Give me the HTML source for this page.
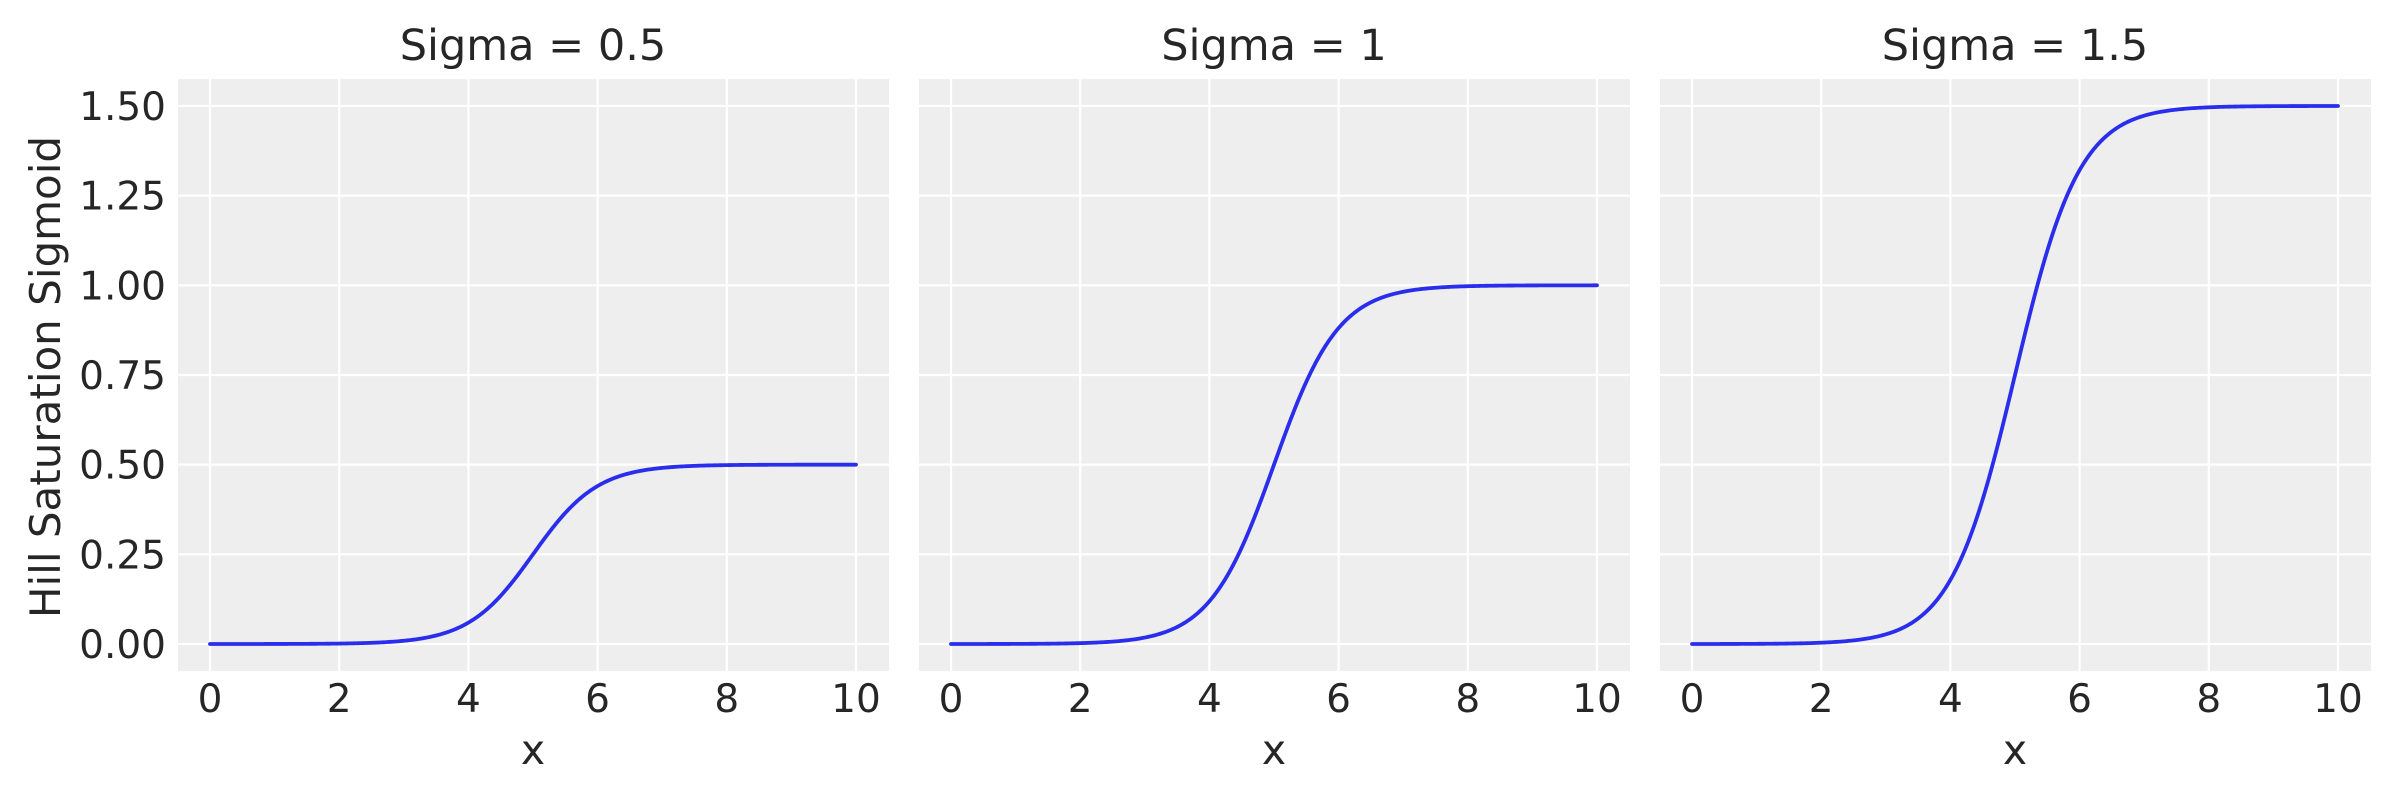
<!DOCTYPE html>
<html><head><meta charset="utf-8"><style>
html,body{margin:0;padding:0;background:#fff;width:2400px;height:800px;overflow:hidden}
text{font-family:"DejaVu Sans","Liberation Sans",sans-serif;fill:#262626}
</style></head><body>
<svg id="s" width="2400" height="800" xmlns="http://www.w3.org/2000/svg"></svg>
<script>
(function(){
var sv=document.getElementById('s');
var h='';
var sig=[0.5,1,1.5], names=['0.5','1','1.5'];
var Y0=644, ypu=358.7, T=79, B=671;
for(var p=0;p<3;p++){
  var L=178+741*p, R=L+711, x0=L+32, xpu=64.6;
  h+='<rect x="'+L+'" y="'+T+'" width="711" height="'+(B-T)+'" fill="#eeeeee"/>';
  for(var t=0;t<=10;t+=2){var X=x0+t*xpu;
    h+='<line x1="'+X+'" y1="'+T+'" x2="'+X+'" y2="'+B+'" stroke="#fff" stroke-width="2.2"/>';
    h+='<text x="'+X+'" y="712" font-size="39" text-anchor="middle">'+t+'</text>';}
  for(var k=0;k<=6;k++){var Y=Y0-k*0.25*ypu;
    h+='<line x1="'+L+'" y1="'+Y+'" x2="'+R+'" y2="'+Y+'" stroke="#fff" stroke-width="2.2"/>';
    if(p==0)h+='<text x="166" y="'+(Y+14)+'" font-size="39" text-anchor="end">'+(k*0.25).toFixed(2)+'</text>';}
  var d='';
  for(var i=0;i<=400;i++){var x=i*10/400;var v=sig[p]/(1+Math.exp(-2*(x-5)))-sig[p]/(1+Math.exp(10));
    d+=(i?'L':'M')+(x0+x*xpu).toFixed(2)+','+(Y0-v*ypu).toFixed(2);}
  h+='<path d="'+d+'" fill="none" stroke="#2a2eec" stroke-width="3.8" stroke-linecap="round"/>';
  h+='<text x="'+(L+355)+'" y="60" font-size="43" text-anchor="middle">Sigma = '+names[p]+'</text>';
  h+='<text x="'+(L+355)+'" y="764" font-size="41" text-anchor="middle">x</text>';
}
h+='<text transform="translate(60,377) rotate(-90)" font-size="42" text-anchor="middle">Hill Saturation Sigmoid</text>';
sv.innerHTML=h;
})();
</script>
</body></html>
